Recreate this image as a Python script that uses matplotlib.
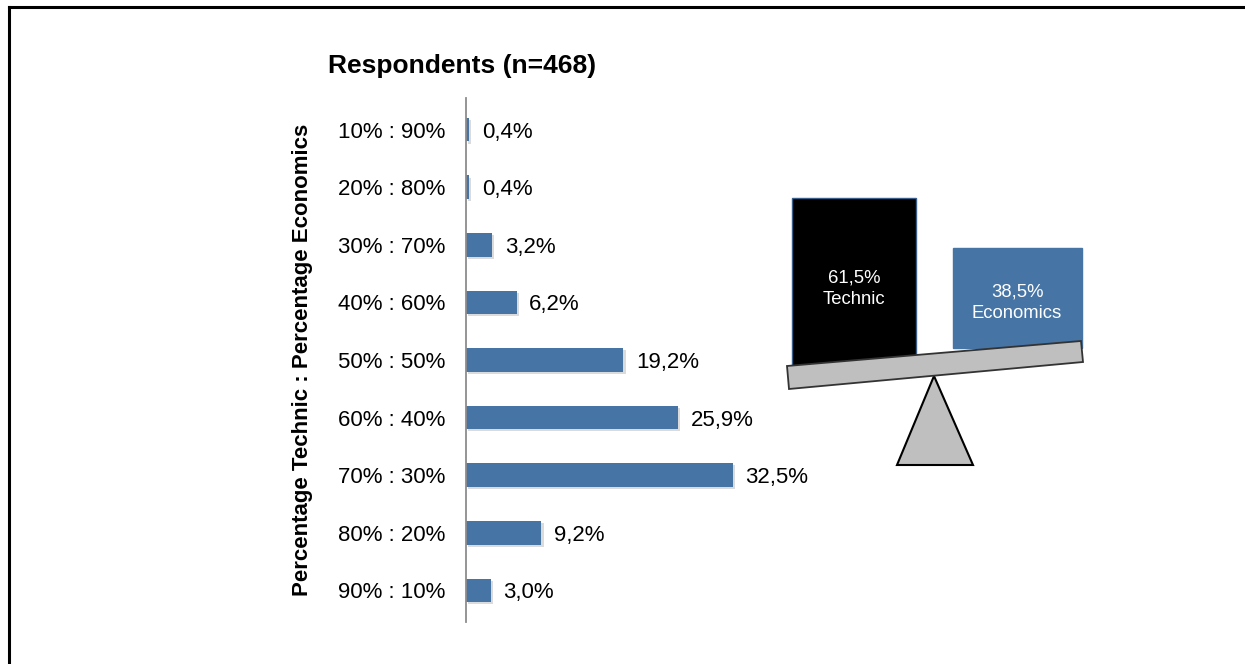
import matplotlib
matplotlib.use("Agg")
import matplotlib.pyplot as plt
from matplotlib.patches import Rectangle, Polygon
import matplotlib.patheffects as pe

plt.rcParams["font.family"] = ["Liberation Sans", "DejaVu Sans"]

# data
ratio_labels = ["10% : 90%", "20% : 80%", "30% : 70%", "40% : 60%", "50% : 50%",
                "60% : 40%", "70% : 30%", "80% : 20%", "90% : 10%"]
share_pct = [0.4, 0.4, 3.2, 6.2, 19.2, 25.9, 32.5, 9.2, 3.0]
balance_pct = [61.5, 38.5]
balance_names = ["Technic", "Economics"]

BLUE = "#4674a5"
W, H = 1245, 664

fig = plt.figure(figsize=(W / 100, H / 100), dpi=100)

# frame lines (top and left only, the rest is cropped)
fig.add_artist(plt.Line2D([8.5 / W, 1], [1 - 6.5 / H, 1 - 6.5 / H], color="black", lw=2.2))
fig.add_artist(plt.Line2D([8.5 / W, 8.5 / W], [0, 1 - 6.5 / H], color="black", lw=2.2))

# bar chart
ax_l, ax_top, ax_bot = 466, 98, 622
ax = fig.add_axes([ax_l / W, (H - ax_bot) / H, 328 / W, (ax_bot - ax_top) / H])
ypos = list(range(len(ratio_labels)))
bars = ax.barh(ypos, share_pct, height=0.41, color=BLUE, zorder=2)
for b in bars:
    b.set_path_effects([pe.SimplePatchShadow(offset=(1.5, -1.5), shadow_rgbFace="#999999", alpha=0.35), pe.Normal()])
ax.set_xlim(0, 40)
ax.set_ylim(len(ratio_labels) - 0.45, -0.55)
for y, v in zip(ypos, share_pct):
    ax.annotate(f"{v:.1f}".replace(".", ",") + "%", (v, y), xytext=(9, 0),
                textcoords="offset points", va="center_baseline", ha="left", fontsize=16)
ax.set_yticks(ypos)
ax.set_yticklabels(ratio_labels, fontsize=16, va="center_baseline")
ax.tick_params(axis="y", length=0, pad=15)
ax.set_xticks([])
for s in ["top", "right", "bottom"]:
    ax.spines[s].set_visible(False)
ax.spines["left"].set_color("#8c8c8c")
ax.spines["left"].set_linewidth(1.3)
ax.set_ylabel("Percentage Technic : Percentage Economics", fontsize=16,
              fontweight="bold")
ax.yaxis.set_label_coords((313 - ax_l) / 328, 0.5)
fig.text(462 / W, 1 - 64 / H, "Respondents (n=468)", ha="center", va="center_baseline",
         fontsize=19, fontweight="bold")

# balance illustration in pixel coordinates
ov = fig.add_axes([0, 0, 1, 1])
ov.set_xlim(0, W)
ov.set_ylim(H, 0)
ov.axis("off")
ov.add_patch(Rectangle((792, 198), 124, 170, facecolor="black", edgecolor="#3a5f8a", lw=1, zorder=1))
ov.add_patch(Rectangle((953, 248), 129, 100, facecolor=BLUE, edgecolor=BLUE, lw=1, zorder=1))
ov.add_patch(Polygon([(897, 465), (934, 376), (973, 465)], closed=True,
                     facecolor="#bfbfbf", edgecolor="black", lw=1.5, zorder=2))
ov.add_patch(Polygon([(787, 366), (1081, 341), (1083, 362), (789, 389)], closed=True,
                     facecolor="#bfbfbf", edgecolor="#333333", lw=1.3, zorder=3))
ov.text(854, 289, f"{balance_pct[0]:.1f}".replace(".", ",") + "%\n" + balance_names[0],
        color="white", ha="center", va="center", fontsize=13.3, linespacing=1.35)
ov.text(1017, 303, f"{balance_pct[1]:.1f}".replace(".", ",") + "%\n" + balance_names[1],
        color="white", ha="center", va="center", fontsize=13.3, linespacing=1.35)

fig.savefig("out.png", dpi=100)
